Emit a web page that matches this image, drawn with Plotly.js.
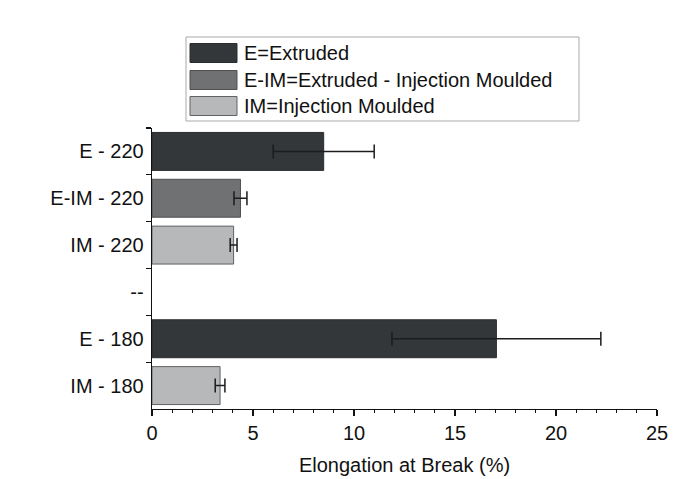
<!DOCTYPE html>
<html>
<head>
<meta charset="utf-8">
<script src="https://cdn.plot.ly/plotly-3.0.1.min.js"></script>
<style>
  html, body { margin: 0; padding: 0; background: #ffffff; }
  #chart { width: 691px; height: 479px; }
</style>
</head>
<body>
<div id="chart"></div>
<script>
// Row order on the vertical axis, top to bottom ("--" is an empty spacer row)
const categories = ['E - 220', 'E-IM - 220', 'IM - 220', '--', 'E - 180', 'IM - 180'];

// Elongation at break (%) and standard deviation for each processing route
const extrudedRows = ['E - 220', 'E - 180'];
const extrudedValues = [8.5, 17.05];
const extrudedErrors = [2.5, 5.17];

const extInjRows = ['E-IM - 220'];
const extInjValues = [4.38];
const extInjErrors = [0.32];

const injRows = ['IM - 220', 'IM - 180'];
const injValues = [4.04, 3.37];
const injErrors = [0.17, 0.24];

const legendLabels = ['E=Extruded', 'E-IM=Extruded - Injection Moulded', 'IM=Injection Moulded'];
const fills = ['#33373a', '#6f7173', '#b6b8ba'];
const outlines = ['#2a2d2f', '#4e5052', '#606264'];

const FONT = 'Liberation Sans, Arial, sans-serif';
const FS = 20;

function barTrace(rows, values, errors, i) {
  return {
    type: 'bar',
    orientation: 'h',
    y: rows,
    x: values,
    width: 0.81,
    name: legendLabels[i],
    showlegend: false,
    hoverinfo: 'x+y',
    marker: { color: fills[i], line: { color: outlines[i], width: 1 } },
    error_x: {
      type: 'data',
      array: errors,
      visible: true,
      color: '#1c1c1c',
      thickness: 1.5,
      width: 7
    }
  };
}

const data = [
  barTrace(extrudedRows, extrudedValues, extrudedErrors, 0),
  barTrace(extInjRows, extInjValues, extInjErrors, 1),
  barTrace(injRows, injValues, injErrors, 2)
];

// Boxed key drawn in paper coordinates with wide swatches
const shapes = [];
const annotations = [];
const plotL = 152, plotT = 128, plotW = 505, plotH = 281;
function px(x) { return (x - plotL) / plotW; }
function py(y) { return 1 - (y - plotT) / plotH; }

shapes.push({
  type: 'rect', xref: 'paper', yref: 'paper',
  x0: px(186), x1: px(579), y0: py(121), y1: py(37),
  line: { color: '#a9a9a9', width: 1 }, fillcolor: 'rgba(0,0,0,0)'
});
const rowCenters = [53, 80, 106];
legendLabels.forEach((label, i) => {
  const yc = rowCenters[i];
  shapes.push({
    type: 'rect', xref: 'paper', yref: 'paper',
    x0: px(190), x1: px(237), y0: py(yc + 9.5), y1: py(yc - 9.5),
    line: { color: outlines[i], width: 1 }, fillcolor: fills[i]
  });
  annotations.push({
    xref: 'paper', yref: 'paper',
    x: px(242), y: py(yc),
    xanchor: 'left', yanchor: 'middle',
    text: label, showarrow: false,
    font: { family: FONT, size: FS, color: '#111111' }
  });
});

const layout = {
  width: 691,
  height: 479,
  margin: { l: plotL, r: 691 - plotL - plotW, t: plotT, b: 479 - plotT - plotH, pad: 0 },
  paper_bgcolor: '#ffffff',
  plot_bgcolor: '#ffffff',
  barmode: 'overlay',
  font: { family: FONT, size: FS, color: '#111111' },
  xaxis: {
    range: [0, 25],
    dtick: 5,
    tick0: 0,
    showgrid: false,
    zeroline: false,
    showline: true,
    linecolor: '#111111',
    linewidth: 1.3,
    ticks: 'outside',
    ticklen: 6,
    tickwidth: 1.3,
    tickcolor: '#111111',
    minor: { dtick: 1, ticks: 'outside', ticklen: 3, tickwidth: 1, tickcolor: '#111111', showgrid: false },
    tickfont: { family: FONT, size: FS, color: '#111111' },
    title: { text: 'Elongation at Break (%)', standoff: 14, font: { family: FONT, size: FS, color: '#111111' } }
  },
  yaxis: {
    type: 'category',
    categoryorder: 'array',
    categoryarray: categories,
    range: [5.5, -0.5],
    tickson: 'boundaries',
    showgrid: false,
    zeroline: false,
    showline: true,
    linecolor: '#111111',
    linewidth: 1.3,
    ticks: 'outside',
    ticklen: 5,
    tickwidth: 1.3,
    tickcolor: '#111111',
    ticklabelstandoff: 3,
    tickfont: { family: FONT, size: FS, color: '#111111' }
  },
  shapes: shapes,
  annotations: annotations
};

Plotly.newPlot('chart', data, layout, { displayModeBar: false, staticPlot: true });
</script>
</body>
</html>
